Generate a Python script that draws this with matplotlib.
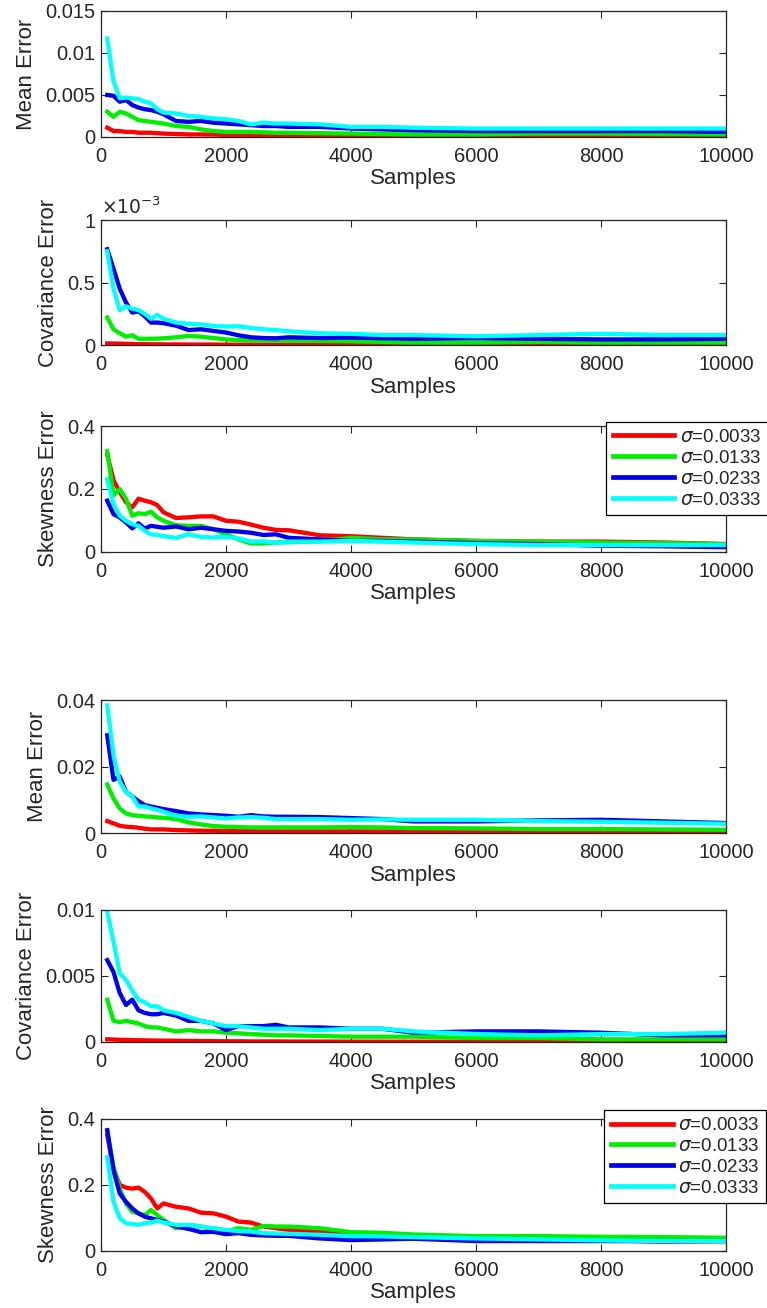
import numpy as np
import matplotlib
matplotlib.use('Agg')
import matplotlib.pyplot as plt
from matplotlib.ticker import FuncFormatter

plt.rcParams['font.family'] = ['Liberation Sans', 'DejaVu Sans']
plt.rcParams['mathtext.fontset'] = 'dejavusans'

# sample counts shared by every curve
samples = [100, 200, 300, 400, 500, 600, 700, 800, 900, 1000, 1200, 1400, 1600, 1800, 2000,
           2200, 2400, 2600, 2800, 3000, 3500, 4000, 4500, 5000, 6000, 7000, 8000, 9000, 10000]

sigma_labels = [r'$\sigma$=0.0033', r'$\sigma$=0.0133', r'$\sigma$=0.0233', r'$\sigma$=0.0333']
line_colors = ['#ff0000', '#00ee00', '#0000ee', '#00ffff']

# ---- first experiment ----
mean_a_red = [0.0011, 0.0007, 0.0007, 0.0006, 0.0006, 0.0005, 0.0005, 0.0005, 0.00045, 0.0004, 0.00035, 0.0003, 0.0003, 0.00028, 0.00025,
              0.00022, 0.0002, 0.0002, 0.0002, 0.00018, 0.00015, 0.00012, 0.00012, 0.0001, 0.0001, 0.0001, 0.0001, 0.0001, 0.0001]
mean_a_green = [0.0030, 0.0024, 0.0030, 0.0028, 0.0024, 0.0020, 0.0019, 0.0018, 0.0017, 0.0016, 0.0013, 0.0012, 0.0009, 0.0007, 0.0006,
                0.0006, 0.0006, 0.00055, 0.0005, 0.0005, 0.00045, 0.0004, 0.00035, 0.0003, 0.0003, 0.0004, 0.0004, 0.00035, 0.0003]
mean_a_blue = [0.0050, 0.0049, 0.0042, 0.0044, 0.0038, 0.0035, 0.0033, 0.0032, 0.0030, 0.0027, 0.0019, 0.0018, 0.0019, 0.0017, 0.0016,
               0.0015, 0.0014, 0.0013, 0.0013, 0.0012, 0.0012, 0.0010, 0.0009, 0.0008, 0.0007, 0.0007, 0.0007, 0.0007, 0.0006]
mean_a_cyan = [0.0117, 0.0066, 0.0046, 0.0047, 0.0046, 0.0045, 0.0042, 0.0040, 0.0033, 0.0029, 0.0028, 0.0025, 0.0024, 0.0022, 0.0021,
               0.0019, 0.0015, 0.0017, 0.0016, 0.0016, 0.0015, 0.0012, 0.0012, 0.0011, 0.0010, 0.0010, 0.0010, 0.0010, 0.0010]

# covariance error of the first experiment, in units of 1e-3
cov_a_red = [0.013, 0.012, 0.011, 0.010, 0.008, 0.007, 0.007, 0.006, 0.006, 0.005, 0.005, 0.004, 0.004, 0.004, 0.003,
             0.003, 0.003, 0.003, 0.003, 0.002, 0.002, 0.002, 0.002, 0.002, 0.002, 0.001, 0.001, 0.001, 0.001]
cov_a_green = [0.22, 0.126, 0.094, 0.067, 0.078, 0.05, 0.05, 0.05, 0.052, 0.054, 0.062, 0.073, 0.067, 0.056, 0.045,
               0.04, 0.038, 0.037, 0.036, 0.035, 0.033, 0.03, 0.025, 0.02, 0.02, 0.025, 0.02, 0.02, 0.02]
cov_a_blue = [0.766, 0.61, 0.45, 0.34, 0.26, 0.27, 0.23, 0.18, 0.18, 0.175, 0.155, 0.12, 0.126, 0.113, 0.10,
              0.078, 0.062, 0.056, 0.054, 0.062, 0.056, 0.06, 0.055, 0.05, 0.055, 0.05, 0.045, 0.045, 0.05]
cov_a_cyan = [0.75, 0.45, 0.28, 0.31, 0.29, 0.28, 0.25, 0.21, 0.24, 0.21, 0.18, 0.17, 0.165, 0.153, 0.148,
              0.15, 0.137, 0.126, 0.12, 0.11, 0.094, 0.09, 0.08, 0.08, 0.07, 0.08, 0.09, 0.08, 0.08]

skew_a_red = [0.309, 0.228, 0.19, 0.158, 0.142, 0.169, 0.163, 0.158, 0.149, 0.126, 0.108, 0.11, 0.113, 0.113, 0.099,
              0.096, 0.087, 0.077, 0.07, 0.069, 0.053, 0.05, 0.045, 0.04, 0.035, 0.033, 0.033, 0.03, 0.025]
skew_a_green = [0.32, 0.18, 0.2, 0.169, 0.115, 0.123, 0.12, 0.128, 0.11, 0.099, 0.085, 0.083, 0.083, 0.072, 0.056,
                0.04, 0.027, 0.027, 0.03, 0.031, 0.034, 0.045, 0.04, 0.04, 0.035, 0.033, 0.03, 0.028, 0.025]
skew_a_blue = [0.163, 0.12, 0.11, 0.094, 0.075, 0.091, 0.074, 0.083, 0.08, 0.077, 0.081, 0.072, 0.077, 0.072, 0.067,
               0.065, 0.061, 0.054, 0.056, 0.045, 0.04, 0.035, 0.035, 0.033, 0.028, 0.025, 0.02, 0.018, 0.015]
skew_a_cyan = [0.23, 0.153, 0.115, 0.099, 0.088, 0.083, 0.067, 0.056, 0.054, 0.05, 0.045, 0.056, 0.048, 0.046, 0.048,
               0.043, 0.033, 0.034, 0.029, 0.033, 0.033, 0.035, 0.033, 0.03, 0.025, 0.022, 0.022, 0.022, 0.022]

# ---- second experiment ----
mean_b_red = [0.0036, 0.0029, 0.0022, 0.0019, 0.0018, 0.0016, 0.0013, 0.0011, 0.0011, 0.0011, 0.0009, 0.0008, 0.0007, 0.0007, 0.0006,
              0.0006, 0.0006, 0.0005, 0.0005, 0.0005, 0.0005, 0.0005, 0.0005, 0.0004, 0.0004, 0.0003, 0.0002, 0.0002, 0.0001]
mean_b_green = [0.0146, 0.0104, 0.0074, 0.0059, 0.0054, 0.0052, 0.0050, 0.0049, 0.0047, 0.0046, 0.0042, 0.0032, 0.0026, 0.0021, 0.0019,
                0.0018, 0.0017, 0.0017, 0.0017, 0.0017, 0.0017, 0.0018, 0.0017, 0.0015, 0.0014, 0.0012, 0.0012, 0.0011, 0.0010]
mean_b_blue = [0.0294, 0.016, 0.017, 0.0124, 0.011, 0.0096, 0.0084, 0.008, 0.0076, 0.0072, 0.0066, 0.0059, 0.0056, 0.0054, 0.0052,
               0.0049, 0.0054, 0.005, 0.0049, 0.0049, 0.0048, 0.0045, 0.0042, 0.0035, 0.0035, 0.0038, 0.004, 0.0035, 0.003]
mean_b_cyan = [0.0384, 0.0234, 0.0154, 0.0124, 0.011, 0.008, 0.008, 0.0074, 0.007, 0.0064, 0.0052, 0.0049, 0.005, 0.0047, 0.0044,
               0.0047, 0.0048, 0.0046, 0.0042, 0.0042, 0.0042, 0.004, 0.0041, 0.004, 0.004, 0.0036, 0.0034, 0.0031, 0.0028]

cov_b_red = [0.0002, 0.00018, 0.00016, 0.00015, 0.00014, 0.00013, 0.00012, 0.00011, 0.0001, 0.0001, 0.00009, 0.00008, 0.00007, 0.00006, 0.00005,
             0.00005, 0.00004, 0.00004, 0.00004, 0.00003, 0.00003, 0.00002, 0.00002, 0.00002, 0.00001, 0.00001, 0.00001, 0.0, 0.0]
cov_b_green = [0.0032, 0.0016, 0.0015, 0.0016, 0.0015, 0.0014, 0.0012, 0.0011, 0.0011, 0.0010, 0.0008, 0.0009, 0.0008, 0.0008, 0.0007,
               0.00065, 0.0006, 0.00055, 0.0005, 0.0005, 0.00045, 0.0004, 0.0004, 0.0004, 0.0003, 0.0003, 0.0002, 0.0002, 0.0002]
cov_b_blue = [0.0062, 0.0053, 0.0037, 0.0028, 0.0032, 0.0024, 0.0022, 0.0021, 0.0021, 0.0022, 0.0020, 0.0016, 0.0016, 0.0014, 0.0009,
              0.0012, 0.0012, 0.0012, 0.0013, 0.0011, 0.0011, 0.0010, 0.0010, 0.0007, 0.0008, 0.0008, 0.0007, 0.0005, 0.0005]
cov_b_cyan = [0.00985, 0.0076, 0.0052, 0.0047, 0.0039, 0.0032, 0.0030, 0.0027, 0.0027, 0.0024, 0.0022, 0.0019, 0.0016, 0.0014, 0.0012,
              0.0012, 0.0011, 0.0010, 0.0010, 0.0010, 0.0009, 0.0010, 0.0010, 0.0008, 0.0006, 0.0005, 0.0006, 0.0006, 0.0007]

skew_b_red = [0.35, 0.25, 0.2, 0.192, 0.189, 0.192, 0.179, 0.159, 0.129, 0.144, 0.134, 0.129, 0.116, 0.114, 0.104,
              0.089, 0.086, 0.074, 0.069, 0.064, 0.059, 0.055, 0.05, 0.045, 0.038, 0.035, 0.033, 0.028, 0.03]
skew_b_green = [0.364, 0.254, 0.189, 0.144, 0.119, 0.114, 0.109, 0.124, 0.109, 0.094, 0.069, 0.079, 0.074, 0.064, 0.059,
                0.069, 0.064, 0.076, 0.074, 0.074, 0.069, 0.057, 0.055, 0.05, 0.045, 0.045, 0.043, 0.042, 0.04]
skew_b_blue = [0.366, 0.244, 0.174, 0.149, 0.129, 0.114, 0.104, 0.099, 0.094, 0.089, 0.074, 0.067, 0.057, 0.058, 0.051,
               0.054, 0.049, 0.047, 0.046, 0.046, 0.038, 0.033, 0.035, 0.037, 0.03, 0.03, 0.03, 0.03, 0.03]
skew_b_cyan = [0.284, 0.149, 0.099, 0.084, 0.082, 0.079, 0.084, 0.086, 0.092, 0.086, 0.079, 0.079, 0.074, 0.069, 0.064,
               0.06, 0.059, 0.054, 0.053, 0.052, 0.049, 0.045, 0.044, 0.042, 0.038, 0.035, 0.032, 0.03, 0.03]

# axes rectangles in figure fractions: left, bottom, width, height
ax_left = 101 / 767
ax_width = 625 / 767
panel_rects = [
    [ax_left, 0.8953, ax_width, 0.0963],
    [ax_left, 0.7362, ax_width, 0.0956],
    [ax_left, 0.5780, ax_width, 0.0963],
    [ax_left, 0.3631, ax_width, 0.1017],
    [ax_left, 0.2034, ax_width, 0.1009],
    [ax_left, 0.0436, ax_width, 0.1009],
]

panels = [
    ('Mean Error', [mean_a_red, mean_a_green, mean_a_blue, mean_a_cyan], 0.015, [0, 0.005, 0.01, 0.015]),
    ('Covariance Error', [cov_a_red, cov_a_green, cov_a_blue, cov_a_cyan], 1.0, [0, 0.5, 1]),
    ('Skewness Error', [skew_a_red, skew_a_green, skew_a_blue, skew_a_cyan], 0.4, [0, 0.2, 0.4]),
    ('Mean Error', [mean_b_red, mean_b_green, mean_b_blue, mean_b_cyan], 0.04, [0, 0.02, 0.04]),
    ('Covariance Error', [cov_b_red, cov_b_green, cov_b_blue, cov_b_cyan], 0.01, [0, 0.005, 0.01]),
    ('Skewness Error', [skew_b_red, skew_b_green, skew_b_blue, skew_b_cyan], 0.4, [0, 0.2, 0.4]),
]

text_color = '#262626'
fig = plt.figure(figsize=(7.67, 13.08), dpi=100)

axes = []
for rect, (ylabel, series, ymax, yticks) in zip(panel_rects, panels):
    ax = fig.add_axes(rect)
    for values, color, label in zip(series, line_colors, sigma_labels):
        ax.plot(samples, values, color=color, linewidth=3.1, label=label, solid_joinstyle='round')
    ax.set_xlim(0, 10000)
    ax.set_ylim(0, ymax)
    ax.set_xticks([0, 2000, 4000, 6000, 8000, 10000])
    ax.set_yticks(yticks)
    ax.yaxis.set_major_formatter(FuncFormatter(lambda v, pos: '%g' % v))
    ax.tick_params(direction='in', top=True, right=True, length=5, width=0.8,
                   labelsize=14.5, colors=text_color)
    ax.tick_params(axis='x', pad=7)
    ax.tick_params(axis='y', pad=4)
    for spine in ax.spines.values():
        spine.set_color(text_color)
        spine.set_linewidth(0.9)
    ax.set_xlabel('Samples', fontsize=16, color=text_color, labelpad=2)
    ax.set_ylabel(ylabel, fontsize=16, color=text_color, labelpad=6)
    axes.append(ax)

# exponent shown above the first covariance panel
axes[1].text(0.0, 1.02, r'$\times10^{-3}$', transform=axes[1].transAxes,
             fontsize=13.5, color=text_color, ha='left', va='bottom')

# legends on the skewness panels
for ax, anchor in [(axes[2], (0.808, 1.03)), (axes[5], (0.805, 1.065))]:
    leg = ax.legend(loc='upper left', bbox_to_anchor=anchor, fontsize=13.5,
                    handlelength=3.3, labelspacing=0.2, borderpad=0.35,
                    handletextpad=0.3, borderaxespad=0, fancybox=False,
                    framealpha=1, edgecolor='black')
    leg.get_frame().set_linewidth(0.9)
    for txt in leg.get_texts():
        txt.set_color(text_color)
    for line in leg.get_lines():
        line.set_linewidth(3.4)

fig.savefig('out.png', dpi=100)
